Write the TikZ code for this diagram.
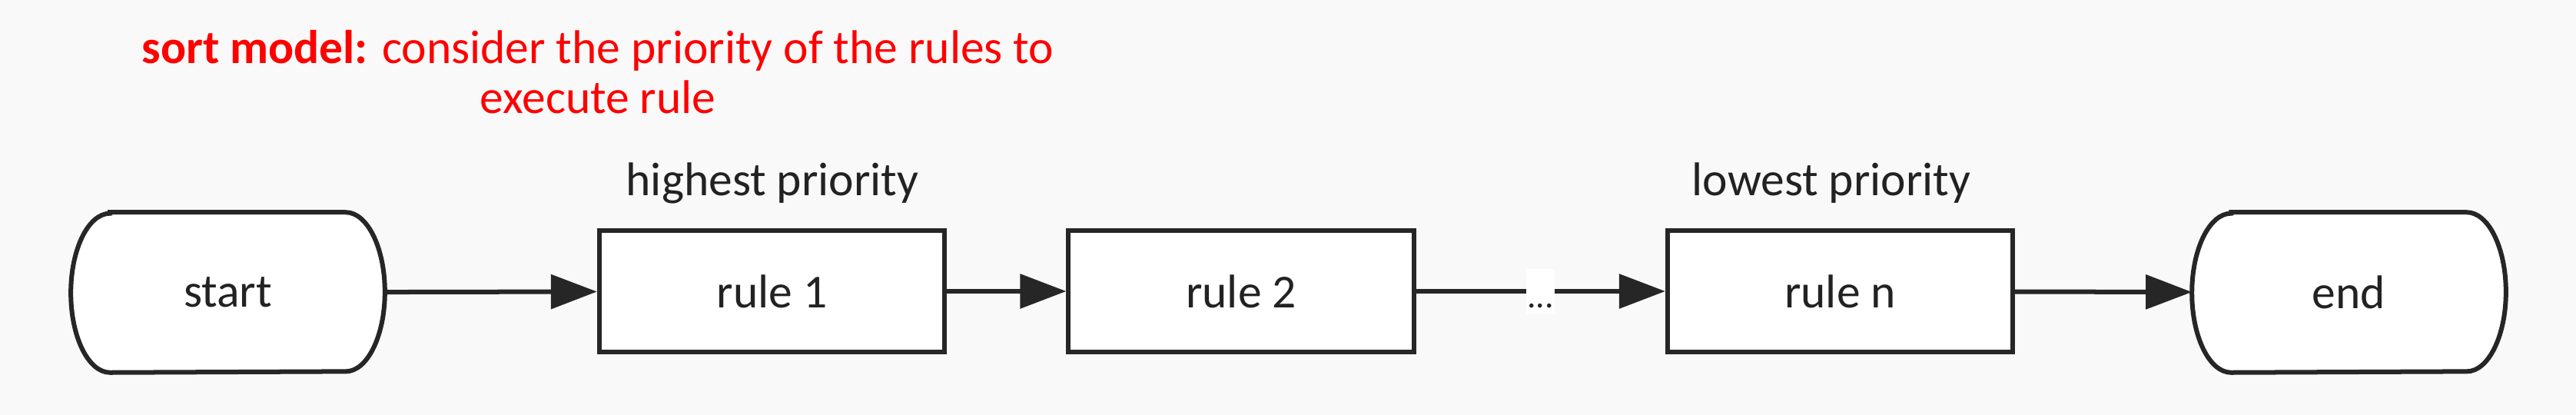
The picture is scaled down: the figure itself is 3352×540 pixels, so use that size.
\documentclass[tikz,border=0pt]{standalone}
\usepackage{fontspec}
\setmainfont{Carlito}
\usetikzlibrary{arrows.meta,backgrounds}
\definecolor{bg}{HTML}{F9F9F9}
\definecolor{ln}{HTML}{262626}
\definecolor{redt}{HTML}{FF0000}
\definecolor{txt}{HTML}{222222}
\begin{document}
\begin{tikzpicture}[x=0.01cm,y=-0.01cm,
  font=\fontsize{17.5}{20}\selectfont,
  every node/.style={text=txt},
  rulebox/.style={draw=ln,line width=0.06cm,fill=white,minimum width=4.49cm,minimum height=1.58cm,inner sep=0pt},
  term/.style={minimum width=4.07cm,minimum height=2.07cm,inner sep=0pt},
  termline/.style={draw=ln,fill=white,line width=0.06cm},
  conn/.style={draw=ln,line width=0.06cm,-{Triangle[length=0.6cm,width=0.44cm]}},
  lbl/.style={anchor=base}]
\useasboundingbox (0,0) rectangle (3352,540);
\begin{pgfonlayer}{background}
\fill[bg] (0,0) rectangle (3352,540);
\end{pgfonlayer}

\node[term] (s) at (296.5,380.5) {start};
\node[term] (e) at (3056.5,380.5) {end};
\node[rulebox] (r1) at (1004.5,379) {rule 1};
\node[rulebox] (r2) at (1615,379) {rule 2};
\node[rulebox] (rn) at (2394.5,379) {rule n};

\begin{pgfonlayer}{background}
\foreach \n in {s,e}{
  \path[termline] ([xshift=0.51cm]\n.north west) -- ([xshift=-0.51cm]\n.north east)
    arc[start angle=90,end angle=-90,x radius=0.51cm,y radius=1.035cm]
    -- ([xshift=0.51cm]\n.south west)
    arc[start angle=270,end angle=90,x radius=0.51cm,y radius=1.035cm] -- cycle;
}
\end{pgfonlayer}

\node[lbl] (hp) at (1005,255) {highest priority};
\node[lbl] (lp) at (2383,255) {lowest priority};
\node[lbl,text=redt,align=center,font=\fontsize{17.5}{18.5}\selectfont] (title) at (778,148)
  {\textbf{sort model:} consider the priority of the rules to\\execute rule};

\draw[conn] (s) -- (r1);
\draw[conn] (r1) -- (r2);
\draw[conn] (r2) -- node[fill=white,inner sep=0pt,minimum width=0.37cm,text height=0.5cm,text depth=0.07cm,font=\fontsize{13}{14}\selectfont] (dots) {...} (rn);
\draw[conn] (rn) -- (e);
\end{tikzpicture}
\end{document}
